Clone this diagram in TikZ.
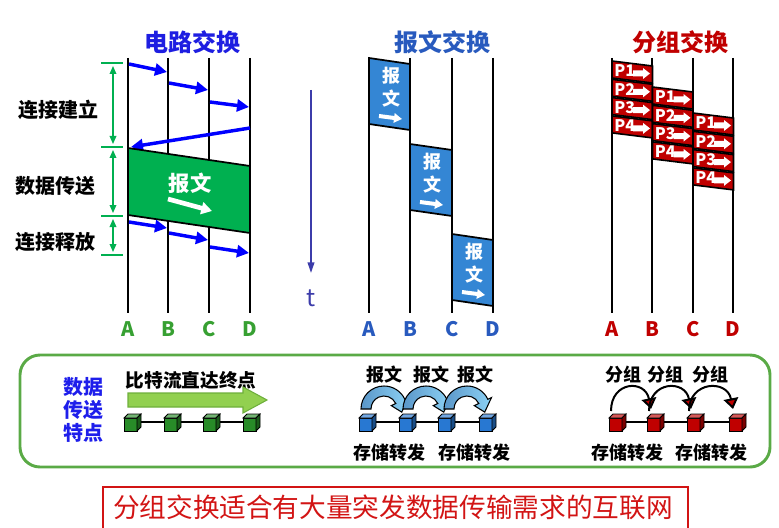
\documentclass[tikz,border=0pt]{standalone}
\usepackage{fontspec}
\setmainfont{Noto Sans CJK SC}
\usepackage{xcolor}
\definecolor{sigblue}{RGB}{0,0,255}
\definecolor{circblue}{RGB}{30,30,225}
\definecolor{stagegreen}{RGB}{0,176,80}
\definecolor{labgreen}{RGB}{55,160,50}
\definecolor{msgblue}{RGB}{52,134,212}
\definecolor{msgtitle}{RGB}{40,90,190}
\definecolor{msgdark}{RGB}{90,150,200}
\definecolor{msglight}{RGB}{140,210,245}
\definecolor{pktred}{RGB}{192,0,0}
\definecolor{timeblue}{RGB}{60,60,170}
\definecolor{framegreen}{RGB}{90,170,70}
\definecolor{limegreen}{RGB}{146,208,80}
\definecolor{limeedge}{RGB}{110,175,60}
\definecolor{cubegreen}{RGB}{40,140,40}
\definecolor{cubeblue}{RGB}{40,120,210}
\definecolor{noteblue}{RGB}{30,30,235}
\definecolor{notered}{RGB}{210,20,20}
\usepackage{tikz}
\usetikzlibrary{arrows.meta, calc}

\tikzset{
    timeline/.style={line width=1.5pt, black},
    title/.style={font=\fontsize{18}{20}\selectfont\bfseries},
    phase/.style={font=\fontsize{15}{17}\selectfont\bfseries},
    station/.style={font=\fontsize{15}{17}\selectfont\bfseries},
    caption/.style={font=\fontsize{13.5}{15}\selectfont\bfseries},
    sig/.style={line width=2.6pt, sigblue, -{Triangle[length=9pt,width=9pt]}},
    marker/.style={line width=1.5pt, stagegreen},
    span/.style={line width=1pt, stagegreen, {Triangle[length=6pt,width=5pt]}-{Triangle[length=6pt,width=5pt]}},
    block/.style={draw=black, line width=1.3pt, fill=msgblue},
    blocktext/.style={white, font=\fontsize{13.5}{15}\selectfont\bfseries},
    whitearrow/.style={white, line width=3pt, -{Triangle[length=6pt,width=7pt]}},
    pktbox/.style={draw=black, line width=1.2pt, fill=pktred},
    pktlabel/.style={white, inner sep=0pt, font=\fontsize{12}{12}\selectfont\bfseries},
    msghop/.style={draw=black, line width=0.8pt, left color=msgdark, right color=msglight},
    pkthop/.style={line width=1.5pt, -{Triangle[fill=pktred, length=8pt, width=11pt]}},
}

% little 3D switch cube: x, y, colour
\newcommand{\netcube}[3]{%
    \filldraw[draw=black, line width=0.6pt, fill=#3] (#1-8,#2-4) rectangle (#1+5,#2+9);
    \filldraw[draw=black, line width=0.6pt, fill=#3!65!white] (#1-8,#2-4) -- (#1-4,#2-8) -- (#1+9,#2-8) -- (#1+5,#2-4) -- cycle;
    \filldraw[draw=black, line width=0.6pt, fill=#3!65!black] (#1+5,#2-4) -- (#1+9,#2-8) -- (#1+9,#2+5) -- (#1+5,#2+9) -- cycle;
}

\begin{document}
\begin{tikzpicture}[x=0.75pt, y=-0.75pt]
    \useasboundingbox (0,0) rectangle (779,528);

    % Titles
    \node[title, text=circblue] (tcirc) at (192,42) {电路交换};
    \node[title, text=msgtitle] (tmsg) at (442,42) {报文交换};
    \node[title, text=pktred] (tpkt) at (680,42) {分组交换};

    % Circuit switching
    \foreach \x/\s in {128/A,168/B,209/C,250/D} {
        \draw[timeline] (\x,58) -- (\x,313);
        \node[station, text=labgreen] (c\s) at (\x,329) {\s};
    }
    \foreach \y in {63,147,216,255}
        \draw[marker] (101,\y) -- (123,\y);
    \foreach \a/\b in {63/147,147/216,216/255}
        \draw[span] (113,\a+3) -- (113,\b-3);
    \node[phase] (setup) at (58,110) {连接建立};
    \node[phase] (transfer) at (56,186) {数据传送};
    \node[phase] (release) at (56,242) {连接释放};

    \draw[sig] (129,64) -- (167,72);
    \draw[sig] (169,83) -- (208,90);
    \draw[sig] (210,102) -- (249,107);
    \draw[sig] (250,128) -- (131,147);

    \filldraw[draw=black, line width=1.3pt, fill=stagegreen] (128,148) -- (250,166) -- (250,233) -- (128,215) -- cycle;
    \node[white, font=\fontsize{16}{18}\selectfont\bfseries] (bandtext) at (190,183) {报文};
    \draw[white, line width=3.5pt, -{Triangle[length=8pt,width=9pt]}] (168,199) -- (212,211);

    \draw[sig] (129,222) -- (167,228);
    \draw[sig] (169,233) -- (208,240);
    \draw[sig] (210,247) -- (249,253);

    % Message switching
    \foreach \x/\s in {369/A,410/B,452/C,493/D} {
        \draw[timeline] (\x,58) -- (\x,313);
        \node[station, text=msgtitle] (m\s) at (\x,329) {\s};
    }
    \foreach \l/\r/\t [count=\i] in {369/410/58, 410/452/144, 452/493/234} {
        \filldraw[block] (\l,\t) -- (\r,\t+6) -- (\r,\t+72) -- (\l,\t+66) -- cycle;
        \node[blocktext] (bao\i) at (\l+22,\t+18) {报};
        \node[blocktext] (wen\i) at (\l+22,\t+41) {文};
        \draw[whitearrow] (\l+10,\t+58) -- (\l+33,\t+61);
    }
    \draw[timeblue, line width=1.3pt, -{Triangle[length=8pt,width=5pt]}] (311,90) -- (311,273);
    \node[text=timeblue, font=\fontsize{18}{20}\selectfont] (time) at (311,298) {t};

    % Packet switching
    \foreach \x/\s in {612/A,652/B,693/C,733/D} {
        \draw[timeline] (\x,58) -- (\x,313);
        \node[station, text=pktred] (p\s) at (\x,329) {\s};
    }
    \foreach \c in {0,1,2} {
        \foreach \k in {0,...,3} {
            \pgfmathsetmacro\lx{612+40.5*\c}
            \pgfmathsetmacro\ty{61+26*\c+18.3*\k}
            \pgfmathtruncatemacro\num{\k+1}
            \filldraw[pktbox] (\lx,\ty) -- (\lx+40.5,\ty+5) -- (\lx+40.5,\ty+22) -- (\lx,\ty+17) -- cycle;
            \node[pktlabel, anchor=west] (pk\c\k) at (\lx+2,\ty+10) {P\num};
            \fill[white] (\lx+21,\ty+9.5) -- (\lx+31,\ty+9.5) -- (\lx+31,\ty+7) -- (\lx+38,\ty+12.5)
                -- (\lx+31,\ty+18) -- (\lx+31,\ty+15.5) -- (\lx+21,\ty+15.5) -- cycle;
        }
    }

    % Features of data transfer
    \draw[framegreen, line width=2.2pt, rounded corners=15pt] (20,355) rectangle (770,467);
    \node[text=noteblue, font=\fontsize{15}{17}\selectfont\bfseries, align=center] (feature) at (83,410) {数据\\传送\\特点};

    \node[font=\fontsize{14}{16}\selectfont\bfseries] (bitflow) at (191,380) {比特流直达终点};
    \filldraw[fill=limegreen, draw=limeedge, line width=0.8pt] (128,393) -- (243,393) -- (243,387) -- (267,400)
        -- (243,413) -- (243,407) -- (128,407) -- cycle;
    \draw[line width=1pt] (132,422) -- (251,422);
    \foreach \x in {132,172,211,251} {
        \netcube{\x}{422}{cubegreen}
    }

    \draw[line width=1pt] (367,422) -- (487,422);
    \foreach \cx in {384,426,467} {
        \shadedraw[msghop] ($(\cx,409)+(180:23)$) arc[start angle=180, end angle=335, radius=23]
            -- ($(\cx,409)+(335:27)$) -- ($(\cx,409)+(10:18)$) -- ($(\cx,409)+(335:8)$)
            -- ($(\cx,409)+(335:13)$) arc[start angle=335, end angle=180, radius=13] -- cycle;
    }
    \foreach \x in {367,407,446,487} {
        \netcube{\x}{422}{cubeblue}
    }
    \foreach \x [count=\i] in {384,431,475} {
        \node[caption] (msg\i) at (\x,375) {报文};
    }
    \node[caption] (store1) at (389,453) {存储转发};
    \node[caption] (store2) at (474,453) {存储转发};

    \draw[line width=1pt] (617,422) -- (737,422);
    \foreach \a/\b in {617/655,655/695,695/737} {
        \draw[pkthop] (\a-6,411) .. controls (\a-6,381) and (\b-10,379) .. (\b-4,409);
    }
    \foreach \x in {617,655,695,737} {
        \netcube{\x}{422}{pktred}
    }
    \foreach \x [count=\i] in {623,665,710} {
        \node[caption] (grp\i) at (\x,375) {分组};
    }
    \node[caption] (store3) at (627,453) {存储转发};
    \node[caption] (store4) at (711,453) {存储转发};

    % Conclusion
    \draw[notered, line width=1pt] (103,530) -- (103,487) -- (688,487) -- (688,530);
    \node[text=notered, font=\fontsize{20}{22}\selectfont] (concl) at (393,507) {分组交换适合有大量突发数据传输需求的互联网};
\end{tikzpicture}
\end{document}
